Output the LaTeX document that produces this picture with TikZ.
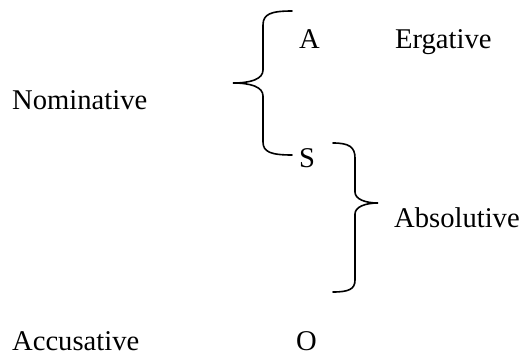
\documentclass[tikz,border=0pt]{standalone}
\usepackage{fontspec}
\setmainfont{Liberation Serif}
\begin{document}
\begin{tikzpicture}[x=1pt,y=-1pt,
  lbl/.style={anchor=base west, inner sep=0pt, font=\fontsize{28.6}{32}\selectfont},
  bracestroke/.style={line width=1.6pt, line cap=round}]
\useasboundingbox (0,0) rectangle (526,356);
\node[lbl] (nom) at (12,109) {Nominative};
\node[lbl] (acc) at (12,350) {Accusative};
\node[lbl] (a) at (299,48) {A};
\node[lbl] (erg) at (395,48) {Ergative};
\node[lbl] (s) at (299,167) {S};
\node[lbl] (abs) at (394,227) {Absolutive};
\node[lbl] (o) at (296,350) {O};
% left brace
\draw[bracestroke] (292,11) .. controls (271,11) and (263,14) .. (263,25)
  -- (263,70) .. controls (263,79) and (251,83) .. (233,83)
  .. controls (251,83) and (263,87) .. (263,96)
  -- (263,142) .. controls (263,152) and (271,155) .. (292,155);
% right brace
\draw[bracestroke] (333,143) .. controls (349,143) and (355,147) .. (355,158)
  -- (355,192) .. controls (355,199) and (365,203) .. (378,203)
  .. controls (365,203) and (355,207) .. (355,214)
  -- (355,280) .. controls (355,289) and (349,292) .. (333,292);
\end{tikzpicture}
\end{document}
